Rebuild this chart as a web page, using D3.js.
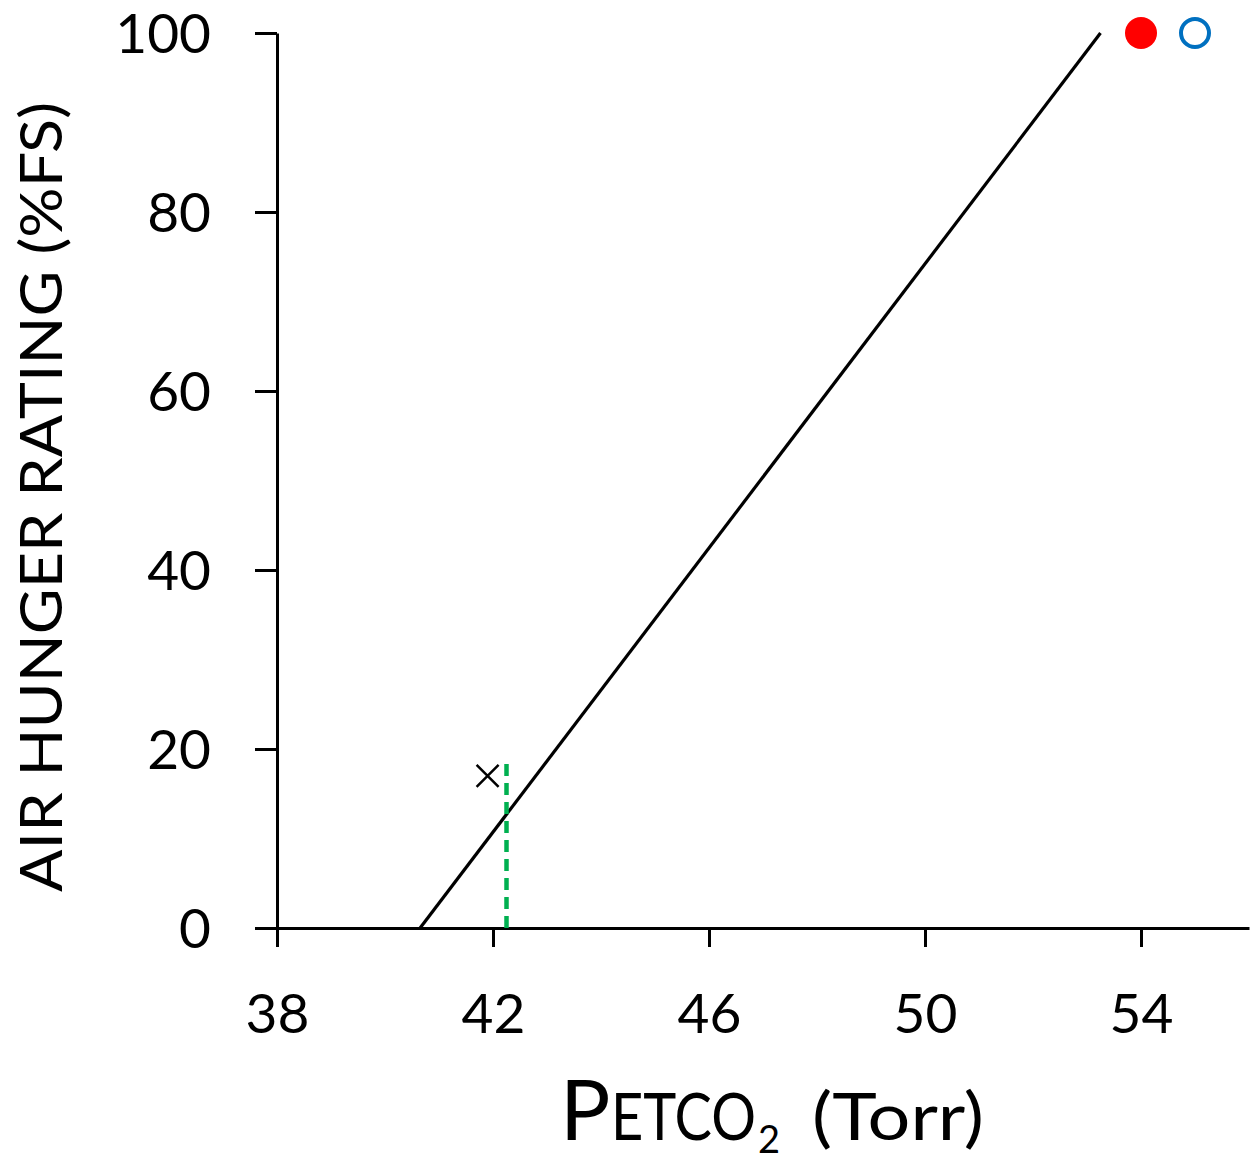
<!DOCTYPE html>
<html lang="en">
<head>
<meta charset="UTF-8">
<title>Air hunger vs PETCO2</title>
<script src="https://d3js.org/d3.v7.min.js"></script>
<style>
    body { margin: 0; padding: 0; background: #fff; overflow: hidden; }
    svg text { font-family: Lato, "Open Sans", sans-serif; fill: #000; }
</style>
</head>
<body>
<div id="chart"></div>
<script>
    // data
    const xTicks = [38, 42, 46, 50, 54];
    const yTicks = [0, 20, 40, 60, 80, 100];
    const fitX = [40.65, 53.25];          // regression line end points
    const fitY = [0, 100];
    const redPoint = [54, 100];           // filled red marker
    const bluePoint = [55, 100];          // open blue marker
    const crossPoint = [41.9, 17];        // "x" marker
    const thresholdX = [42.25, 42.25];    // green dashed line
    const thresholdY = [0, 19];

    const W = 1257, H = 1157;
    const svg = d3.select("#chart").append("svg")
        .attr("width", W).attr("height", H);

    const x = d3.scaleLinear().domain([38, 56]).range([277, 1249]);
    const y = d3.scaleLinear().domain([0, 100]).range([928, 33]);

    // y axis
    const yAxis = svg.append("g")
        .attr("transform", `translate(${x(38)},0)`)
        .call(d3.axisLeft(y).tickValues(yTicks).tickSize(22).tickPadding(44).tickSizeOuter(0));
    yAxis.select(".domain").attr("stroke-width", 3);
    yAxis.selectAll(".tick line").attr("stroke-width", 3);
    yAxis.selectAll(".tick text").attr("font-size", 55).attr("dy", "0.36em");

    // x axis
    const xAxis = svg.append("g")
        .attr("transform", `translate(0,${y(0)})`)
        .call(d3.axisBottom(x).tickValues(xTicks).tickSize(19).tickPadding(46).tickSizeOuter(0));
    xAxis.select(".domain").attr("stroke-width", 3);
    xAxis.selectAll(".tick line").attr("stroke-width", 3);
    xAxis.selectAll(".tick text").attr("font-size", 55).attr("dy", "0.72em");

    // fit line
    svg.append("path")
        .datum(d3.zip(fitX, fitY))
        .attr("d", d3.line().x(d => x(d[0])).y(d => y(d[1])))
        .attr("fill", "none").attr("stroke", "#000").attr("stroke-width", 3.2);

    // green dashed threshold
    svg.append("path")
        .datum(d3.zip(thresholdX, thresholdY))
        .attr("d", d3.line().x(d => x(d[0])).y(d => y(d[1])))
        .attr("fill", "none").attr("stroke", "#00b050").attr("stroke-width", 4.5)
        .attr("stroke-dasharray", "12,7");

    // cross marker
    svg.append("path")
        .attr("transform", `translate(${x(crossPoint[0])},${y(crossPoint[1])})`)
        .attr("d", "M-11,-11L11,11M-11,11L11,-11")
        .attr("stroke", "#000").attr("stroke-width", 2.5).attr("fill", "none");

    // markers
    svg.append("circle")
        .attr("cx", x(redPoint[0])).attr("cy", y(redPoint[1])).attr("r", 16)
        .attr("fill", "#ff0000");
    svg.append("circle")
        .attr("cx", x(bluePoint[0])).attr("cy", y(bluePoint[1])).attr("r", 14)
        .attr("fill", "none").attr("stroke", "#0070c0").attr("stroke-width", 4);

    // y label
    svg.append("text")
        .attr("transform", "translate(62,497) rotate(-90)")
        .attr("text-anchor", "middle")
        .attr("font-size", 58)
        .attr("textLength", 790)
        .attr("lengthAdjust", "spacingAndGlyphs")
        .text("AIR HUNGER RATING (%FS)");

    // x label
    const xl = svg.append("g");
    xl.append("text").attr("x", 560).attr("y", 1140).attr("font-size", 84).text("P");
    xl.append("text").attr("x", 611).attr("y", 1140).attr("font-size", 66)
        .attr("textLength", 145).attr("lengthAdjust", "spacingAndGlyphs").text("ETCO");
    xl.append("text").attr("x", 758).attr("y", 1153).attr("font-size", 38).text("2");
    xl.append("text").attr("x", 812).attr("y", 1140).attr("font-size", 66)
        .attr("textLength", 172).attr("lengthAdjust", "spacingAndGlyphs").text("(Torr)");
</script>
</body>
</html>
